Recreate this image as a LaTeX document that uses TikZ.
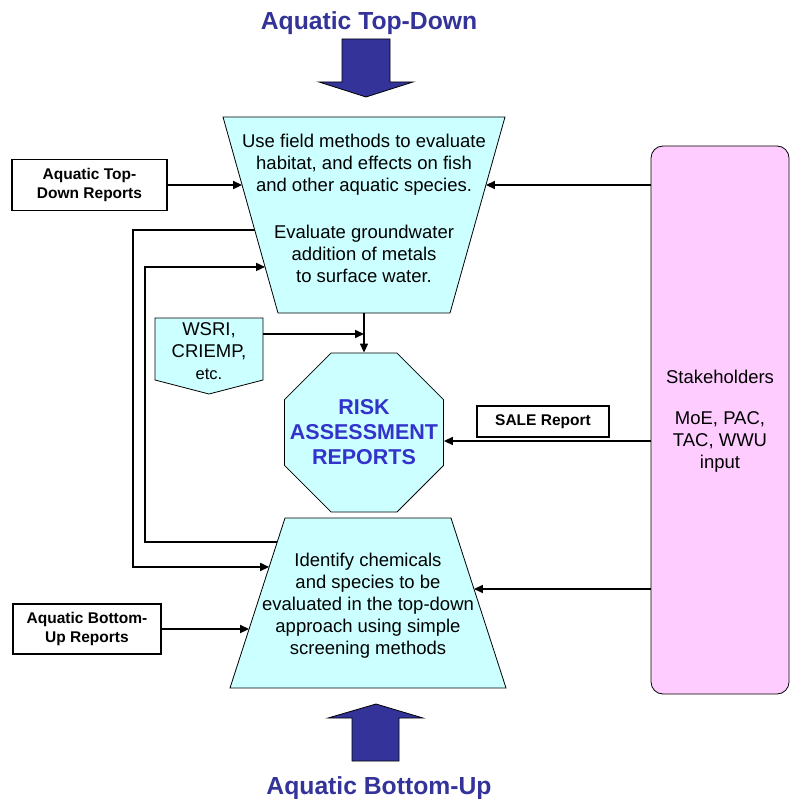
\documentclass[tikz,border=0pt]{standalone}
\usepackage{fontspec}
\setmainfont{Liberation Sans}
\usetikzlibrary{arrows.meta,calc,shapes.geometric}
\definecolor{cyanfill}{HTML}{CCFFFF}
\definecolor{pinkfill}{HTML}{FFCCFF}
\definecolor{navy}{HTML}{333399}
\definecolor{riskblue}{HTML}{3333CC}
\begin{document}
\begin{tikzpicture}[x=1pt,y=-1pt,
  conn/.style={line width=1.6pt, -{Triangle[length=9pt,width=8pt]}},
  shapeline/.style={draw=black, line width=0.8pt},
  body/.style={font=\fontsize{18.5}{22}\selectfont, align=center, inner sep=0},
  rep/.style={draw=black, line width=1.4pt, fill=white, font=\fontsize{15.5}{18.5}\selectfont\bfseries, align=center, inner sep=0},
  bigarrow/.style={fill=navy, draw=black, line width=0.8pt},
  title/.style={font=\fontsize{24.7}{28}\selectfont\bfseries, text=navy, inner sep=0}
]
\useasboundingbox (0,0) rectangle (790,799);

% titles and big arrows
\node[title] (ttop) at (369,23) {Aquatic Top-Down};
\node[title] (tbot) at (379,788) {Aquatic Bottom-Up};
\draw[bigarrow] (342,39) -- (390,39) -- (390,82) -- (413,82) -- (366,97) -- (319,82) -- (342,82) -- cycle;
\draw[bigarrow] (352,761) -- (399,761) -- (399,718) -- (423,718) -- (376,704) -- (328,718) -- (352,718) -- cycle;

% top trapezoid
\coordinate (A1) at (223,117);
\coordinate (A2) at (505,117);
\coordinate (A3) at (450,313);
\coordinate (A4) at (278,313);
\draw[shapeline, fill=cyanfill] (A1) -- (A2) -- (A3) -- (A4) -- cycle;
\node[body] (topt) at (364,208) {Use field methods to evaluate\\habitat, and effects on fish\\and other aquatic species.\\[25pt]Evaluate groundwater\\addition of metals\\to surface water.};
\coordinate (Abot) at ($(A3)!0.5!(A4)$);

% bottom trapezoid
\coordinate (B1) at (285,518);
\coordinate (B2) at (451,518);
\coordinate (B3) at (506,688);
\coordinate (B4) at (230,688);
\draw[shapeline, fill=cyanfill] (B1) -- (B2) -- (B3) -- (B4) -- cycle;
\node[body] (bott) at (368,606) {Identify chemicals\\and species to be\\evaluated in the top-down\\approach using simple\\screening methods};

% octagon
\node[regular polygon, regular polygon sides=8, minimum size=172.1pt, inner sep=0, shapeline, fill=cyanfill] (oct) at (364,432.5) {};
\node[font=\fontsize{21.5}{25}\selectfont\bfseries, text=riskblue, align=center, inner sep=0] (octt) at (364,432) {RISK\\ASSESSMENT\\REPORTS};

% WSRI pentagon
\coordinate (W1) at (155,318);
\coordinate (W2) at (263,318);
\coordinate (W3) at (263,380);
\coordinate (W4) at (209,394);
\coordinate (W5) at (155,380);
\draw[shapeline, fill=cyanfill] (W1) -- (W2) -- (W3) -- (W4) -- (W5) -- cycle;
\node[body] (wt) at (209,351) {WSRI,\\CRIEMP,\\{\fontsize{16.5}{22}\selectfont etc.}};

% stakeholders
\node[shapeline, fill=pinkfill, rounded corners=12pt, minimum width=138pt, minimum height=548pt, inner sep=0] (stk) at (720,420) {};
\node[body] (stkt) at (720,421) {Stakeholders\\[19pt]MoE, PAC,\\TAC, WWU\\input};

% report boxes
\node[rep, minimum width=155pt, minimum height=51pt] (tdr) at (89.5,185) {Aquatic Top-\\Down Reports};
\node[rep, minimum width=148pt, minimum height=50pt] (bur) at (87,629) {Aquatic Bottom-\\Up Reports};
\node[rep, minimum width=132pt, minimum height=31pt] (sale) at (543,421.5) {SALE Report};

% edge points
\coordinate (Ain1) at ($(A1)!0.347!(A4)$);
\coordinate (Ain2) at ($(A2)!0.347!(A3)$);
\coordinate (Aout) at ($(A1)!0.5765!(A4)$);
\coordinate (Ain3) at ($(A1)!0.765!(A4)$);
\coordinate (Bin1) at ($(B1)!0.288!(B4)$);
\coordinate (Bout) at ($(B1)!0.141!(B4)$);
\coordinate (Bin2) at ($(B1)!0.653!(B4)$);
\coordinate (Bin3) at ($(B2)!0.4176!(B3)$);
\coordinate (Wout) at ($(W2)!0.258!(W3)$);
\coordinate (L1) at (133,0);
\coordinate (L2) at (145,0);
\coordinate (sy) at (0,441);

% connectors
\draw[conn] (tdr.east) -- (Ain1);
\draw[conn] (stk.west |- Ain2) -- (Ain2);
\draw[conn] (Aout) -- (Aout -| L1) -- (Bin1 -| L1) -- (Bin1);
\draw[conn] (Bout) -- (Bout -| L2) -- (Ain3 -| L2) -- (Ain3);
\draw[conn] (bur.east) -- (Bin2);
\draw[conn] (stk.west |- Bin3) -- (Bin3);
\draw[conn] (stk.west |- sy) -- (oct.east |- sy);
\draw[conn] (Abot) -- (oct.north);
\draw[conn] (Wout) -- (Wout -| oct.north);
\end{tikzpicture}
\end{document}
